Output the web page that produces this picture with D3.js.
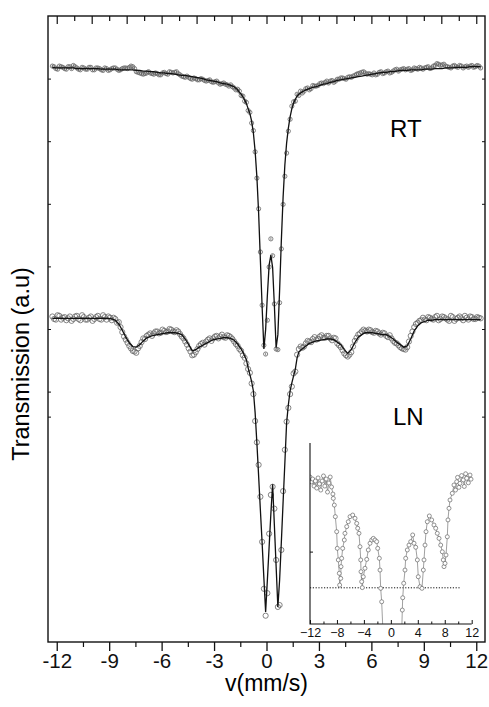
<!DOCTYPE html>
<html>
<head>
<meta charset="utf-8">
<script src="https://cdn.jsdelivr.net/npm/d3@7"></script>
<style>
  body { margin: 0; background: #fff; }
  svg { display: block; font-family: "Liberation Sans", Arial, sans-serif; }
  .axis path, .axis line { stroke: #111; }
  .axis text { fill: #111; }
</style>
</head>
<body>
<div id="chart"></div>
<script>
// velocity channels (mm/s), shared by both spectra
const vel = [
  -12.25,-12.05,-11.85,-11.65,-11.45,-11.25,-11.05,-10.85,-10.65,-10.45,
  -10.25,-10.05,-9.85,-9.65,-9.45,-9.25,-9.05,-8.85,-8.65,-8.45,
  -8.25,-8.05,-7.85,-7.65,-7.45,-7.25,-7.05,-6.85,-6.65,-6.45,
  -6.25,-6.05,-5.85,-5.65,-5.45,-5.25,-5.05,-4.85,-4.65,-4.45,
  -4.25,-4.05,-3.85,-3.65,-3.45,-3.25,-3.05,-2.85,-2.65,-2.45,
  -2.25,-2.05,-1.85,-1.65,
  -1.55,-1.45,-1.35,-1.25,-1.15,-1.05,-0.95,-0.85,-0.75,-0.65,
  -0.55,-0.45,-0.35,-0.25,-0.15,-0.05,0.05,0.15,0.25,0.35,
  0.45,0.55,0.65,0.75,0.85,0.95,1.05,1.15,1.25,1.35,
  1.45,1.55,1.65,1.75,1.85,1.95,2.05,
  2.25,2.45,2.65,2.85,3.05,3.25,3.45,3.65,3.85,4.05,
  4.25,4.45,4.65,4.85,5.05,5.25,5.45,5.65,5.85,6.05,
  6.25,6.45,6.65,6.85,7.05,7.25,7.45,7.65,7.85,8.05,
  8.25,8.45,8.65,8.85,9.05,9.25,9.45,9.65,9.85,10.05,
  10.25,10.45,10.65,10.85,11.05,11.25,11.45,11.65,11.85,12.05,
  12.25
];
// in-between channels of the wings (no fit drawn on these)
const velB = [
  -12.15,-11.95,-11.75,-11.55,-11.35,-11.15,-10.95,-10.75,-10.55,-10.35,
  -10.15,-9.95,-9.75,-9.55,-9.35,-9.15,-8.95,-8.75,-8.55,-8.35,
  -8.15,-7.95,-7.75,-7.55,-7.35,-7.15,-6.95,-6.75,-6.55,-6.35,
  -6.15,-5.95,-5.75,-5.55,-5.35,-5.15,-4.95,-4.75,-4.55,-4.35,
  -4.15,-3.95,-3.75,-3.55,-3.35,-3.15,-2.95,-2.75,-2.55,-2.35,
  -2.15,-1.95,-1.75,
  2.15,2.35,2.55,2.75,2.95,3.15,3.35,3.55,3.75,3.95,
  4.15,4.35,4.55,4.75,4.95,5.15,5.35,5.55,5.75,5.95,
  6.15,6.35,6.55,6.75,6.95,7.15,7.35,7.55,7.75,7.95,
  8.15,8.35,8.55,8.75,8.95,9.15,9.35,9.55,9.75,9.95,
  10.15,10.35,10.55,10.75,10.95,11.15,11.35,11.55,11.75,11.95,
  12.15
];

// room temperature spectrum (a.u.)
const rtObs = [
  92.0,91.6,92.0,91.8,91.5,91.9,92.1,91.7,91.4,91.7,
  91.5,91.8,91.4,91.7,91.4,91.7,91.3,91.6,91.7,91.3,
  91.6,91.7,91.8,91.9,91.1,90.9,90.7,90.9,90.9,90.7,
  90.8,90.6,91.0,90.7,91.0,91.0,90.8,90.4,90.2,90.2,
  89.9,90.0,89.8,89.9,89.6,89.8,89.4,89.6,89.1,89.3,
  89.0,89.0,88.5,88.3,
  88.0,87.3,87.2,86.4,86.2,84.9,84.6,82.9,81.7,78.3,
  74.1,69.2,62.3,53.8,47.4,46.0,51.4,59.9,64.4,61.7,
  54.0,46.8,46.7,54.2,62.8,69.9,74.4,78.1,81.6,83.5,
  85.6,86.3,86.4,87.5,87.3,88.0,87.7,
  88.4,88.2,88.9,88.8,89.2,89.2,89.6,89.6,89.4,89.9,
  90.1,90.0,90.2,90.2,90.5,90.8,91.0,90.9,90.8,90.6,
  90.6,91.0,90.8,91.1,90.9,91.2,91.5,91.4,91.6,91.5,
  91.3,91.7,91.5,91.7,91.7,91.9,91.7,92.1,92.3,92.2,
  92.0,91.8,92.0,91.9,92.1,91.7,92.0,92.0,91.8,92.1,
  91.7
];
const rtObsB = [
  91.9,91.5,91.9,91.6,91.9,91.6,91.9,91.5,91.8,91.5,
  91.8,91.4,91.7,91.6,91.3,91.6,91.4,91.7,91.5,91.4,
  91.7,91.6,92.0,91.6,91.0,90.8,90.8,91.1,90.8,90.9,
  90.6,90.9,90.8,91.1,90.9,91.1,90.6,90.3,90.4,90.0,
  90.1,89.8,90.0,89.7,89.7,89.5,89.5,89.3,89.2,89.1,
  88.8,88.7,88.2,
  88.0,88.5,88.4,88.8,88.9,89.3,89.4,89.3,89.7,89.6,
  89.9,90.1,89.9,90.3,90.4,90.7,90.9,91.1,90.7,90.7,
  90.9,90.7,91.1,90.9,91.2,91.0,91.4,91.2,91.5,91.4,
  91.6,91.4,91.6,91.8,91.5,91.8,91.6,92.0,92.4,92.1,
  92.3,91.9,91.7,92.1,91.8,92.0,91.9,91.8,92.1,91.9,
  92.0
];
const rtFit = [
  91.8,91.7,91.7,91.7,91.7,91.7,91.7,91.6,91.6,91.6,
  91.6,91.6,91.6,91.6,91.5,91.5,91.5,91.5,91.5,91.4,
  91.4,91.4,91.4,91.4,91.3,91.3,91.2,91.2,91.1,91.1,
  91.0,90.9,90.9,90.8,90.8,90.7,90.6,90.5,90.5,90.4,
  90.3,90.2,90.1,90.0,89.8,89.7,89.6,89.5,89.3,89.2,
  89.1,88.9,88.7,88.2,
  87.8,87.5,87.1,86.6,86.0,85.2,84.4,83.2,81.3,78.4,
  74.3,68.5,61.0,53.5,46.8,49.9,55.4,60.2,61.8,59.8,
  53.8,47.0,49.1,56.2,64.2,71.1,76.2,79.7,82.1,83.9,
  85.2,86.1,86.7,87.2,87.5,87.7,87.9,
  88.2,88.4,88.6,88.7,88.9,89.1,89.2,89.4,89.5,89.7,
  89.8,89.9,90.0,90.1,90.2,90.3,90.4,90.5,90.6,90.7,
  90.8,90.9,91.0,91.0,91.1,91.1,91.2,91.3,91.3,91.3,
  91.4,91.4,91.4,91.4,91.5,91.5,91.5,91.6,91.6,91.6,
  91.7,91.7,91.7,91.8,91.8,91.8,91.8,91.9,91.9,91.9,
  91.9
];

// liquid nitrogen spectrum (a.u.)
const lnObs = [
  52.0,51.5,52.1,51.8,51.4,52.0,51.6,52.1,51.4,51.9,
  51.5,52.0,51.6,52.1,51.5,51.9,52.0,51.4,51.6,51.1,
  49.5,48.3,47.3,46.5,46.2,47.3,48.5,48.9,49.3,49.3,
  49.6,49.4,49.7,49.6,49.9,49.5,49.6,48.8,48.0,46.9,
  45.8,46.3,47.3,47.8,48.0,48.5,48.5,48.9,48.8,48.7,
  49.0,48.7,48.0,47.3,
  46.8,46.5,45.8,45.4,44.5,43.6,43.0,41.3,39.6,35.3,
  31.9,28.3,23.2,16.0,8.5,4.2,7.8,17.3,23.5,24.8,
  21.3,13.1,5.6,5.9,14.7,24.1,30.7,35.2,37.4,39.6,
  40.8,42.9,43.2,45.9,46.8,47.2,47.0,
  47.7,48.0,48.4,48.3,48.8,48.6,48.9,48.5,48.6,47.7,
  47.1,46.1,45.6,46.3,48.1,49.1,49.6,49.7,49.9,49.5,
  49.7,49.3,49.4,48.9,49.0,48.1,47.7,47.1,46.8,47.1,
  48.9,50.3,51.0,51.4,51.5,51.9,51.6,51.9,51.4,52.0,
  51.7,51.3,51.9,51.6,52.0,51.4,51.8,52.0,51.6,51.9,
  51.7
];
const lnObsB = [
  51.6,52.2,51.5,51.9,51.7,51.3,52.0,51.6,52.2,51.5,
  51.8,51.3,51.9,51.6,52.2,51.5,51.8,51.8,51.0,50.3,
  48.8,47.8,46.9,46.4,46.9,47.9,48.4,49.1,48.9,49.6,
  49.3,49.9,49.5,50.0,49.6,49.8,49.2,48.5,47.5,46.4,
  45.9,46.8,47.6,47.5,48.3,48.1,48.8,48.5,49.1,48.6,
  48.9,48.4,47.6,
  47.2,48.1,47.9,48.7,48.4,49.0,48.6,48.9,48.2,48.5,
  47.4,46.6,45.8,45.9,47.2,48.6,49.3,49.9,49.6,49.8,
  49.4,49.6,49.1,49.3,48.7,48.5,47.8,47.4,46.9,46.7,
  48.0,49.6,50.8,51.3,51.8,51.4,51.8,51.5,52.1,51.6,
  51.9,51.5,52.1,51.3,51.8,51.7,52.1,51.5,51.9,51.6,
  51.8
];
const lnFit = [
  51.7,51.7,51.7,51.7,51.7,51.7,51.7,51.7,51.7,51.7,
  51.7,51.7,51.7,51.7,51.7,51.7,51.7,51.6,51.4,50.8,
  49.8,48.7,47.8,47.2,47.1,47.5,48.1,48.6,48.8,49.0,
  49.1,49.2,49.3,49.4,49.4,49.4,49.3,49.1,48.4,47.5,
  46.5,46.7,47.1,47.4,47.7,48.0,48.3,48.4,48.5,48.6,
  48.6,48.5,48.2,47.6,
  47.2,46.8,46.3,45.7,45.1,43.8,42.7,41.6,40.1,36.6,
  31.8,26.5,21.1,15.8,10.2,4.8,9.9,15.2,20.5,25.2,
  18.7,12.1,5.6,9.9,16.0,22.4,28.6,35.0,37.9,40.1,
  41.4,42.5,43.6,45.4,46.3,46.6,46.8,
  47.3,47.7,47.9,48.1,48.2,48.3,48.4,48.4,48.3,47.9,
  47.5,46.7,46.1,46.7,47.8,48.7,49.1,49.4,49.4,49.4,
  49.3,49.2,49.1,49.1,48.8,48.4,47.9,47.5,47.1,47.3,
  48.4,49.7,50.5,51.0,51.2,51.4,51.4,51.5,51.5,51.5,
  51.5,51.5,51.5,51.5,51.5,51.5,51.5,51.5,51.5,51.5,
  51.5
];

// inset: magnified LN spectrum
const insetVel = [
  -12.0,-11.8,-11.6,-11.4,-11.2,-11.0,-10.8,-10.6,-10.4,-10.2,
  -10.0,-9.8,-9.6,-9.4,-9.2,-9.0,-8.8,-8.6,
  -8.54,-8.39,-8.24,-8.04,-7.95,-7.80,-7.65,-7.60,-7.44,-7.40,
  -7.30,-7.15,-6.91,-6.81,-6.55,-6.32,-6.06,-5.66,-5.32,-5.07,
  -4.92,-4.73,-4.58,-4.47,-4.43,-4.33,-4.24,-4.09,-3.84,-3.58,
  -3.35,-3.09,-2.84,-2.60,-2.35,-2.10,-1.95,-1.71,-1.61,-1.51,
  -1.36,-1.12,
  1.58,1.70,1.76,1.91,2.10,2.20,2.44,2.69,2.95,3.24,
  3.44,3.69,3.93,4.07,4.33,4.62,4.82,4.92,5.07,5.22,
  5.41,5.71,6.06,6.40,6.66,6.89,7.15,7.40,7.64,7.78,
  7.89,8.04,8.19,8.38,8.48,8.63,8.78,9.12,9.37,9.6,
  9.77,9.9,10.1,10.26,10.5,10.75,10.9,11.1,11.26,11.5,
  11.75,11.9
];
const insetObs = [
  81.2,78.5,80.1,76.2,79.0,75.1,80.7,77.4,74.0,79.0,
  81.8,76.2,80.1,72.9,77.9,81.2,75.7,71.8,
  69.4,65.7,59.3,51.0,41.8,35.4,28.0,21.5,25.2,31.7,
  36.3,41.8,46.4,50.1,53.8,56.5,59.3,60.2,58.4,55.6,
  52.9,50.1,42.7,35.4,28.9,23.4,20.1,26.1,30.8,35.7,
  40.9,44.6,46.4,47.3,46.4,45.5,41.8,36.3,29.8,19.7,
  12.3,-8.8,
  -8.8,7.7,14.5,22.5,29.8,36.3,40.9,43.6,45.5,49.2,
  44.6,42.4,35.4,26.1,20.6,19.7,29.8,35.4,43.6,51.0,
  56.5,59.7,57.5,54.7,52.9,50.1,47.3,43.6,39.9,35.4,
  31.7,33.5,38.1,48.2,57.5,63.9,68.5,72.2,76.8,74.0,
  78.6,81.0,75.5,77.7,82.0,79.6,76.0,83.0,80.5,78.0,
  82.3,80.0
];
const insetBase = 20;

// tick values
const xMajor = [-12, -9, -6, -3, 0, 3, 6, 9, 12];
const xMinor = [-10.5, -7.5, -4.5, -1.5, 1.5, 4.5, 7.5, 10.5];
const topLong = [-12, -10, -8, -6, -4, -2, 0, 2, 4, 6, 8, 10, 12];
const topShort = [-11, -9, -7, -5, -3, -1, 1, 3, 5, 7, 9, 11];
const yTicks = [90, 80, 70, 60, 50, 40, 36];
const insetXMajor = [-12, -8, -4, 0, 4, 8, 12];
const insetXMinor = [-10, -6, -2, 2, 6, 10];
const insetYTicks = [40];

const W = 489, H = 707;
const frame = { left: 48, right: 485, top: 16, bottom: 642 };

const svg = d3.select('#chart').append('svg')
  .attr('width', W).attr('height', H);

const x = d3.scaleLinear().domain([-12.5, 12.5]).range([frame.left, frame.right]);
const y = d3.scaleLinear().domain([0, 100]).range([frame.bottom, frame.top]);

// axes on all four sides
svg.append('g').attr('class', 'axis')
  .attr('transform', 'translate(0,' + frame.bottom + ')')
  .call(d3.axisBottom(x).tickValues(xMajor).tickSize(9).tickPadding(2)
    .tickFormat(d => String(d)))
  .call(g => g.select('.domain').remove())
  .call(g => g.selectAll('line').attr('stroke-width', 1.3))
  .call(g => g.selectAll('text').attr('font-size', 20.5));
svg.append('g').attr('class', 'axis')
  .attr('transform', 'translate(0,' + frame.bottom + ')')
  .call(d3.axisBottom(x).tickValues(xMinor).tickSize(5).tickFormat(''))
  .call(g => g.select('.domain').remove())
  .call(g => g.selectAll('line').attr('stroke-width', 1.2));
svg.append('g').attr('class', 'axis')
  .attr('transform', 'translate(0,' + frame.top + ')')
  .call(d3.axisBottom(x).tickValues(topLong).tickSize(8).tickFormat(''))
  .call(g => g.select('.domain').remove())
  .call(g => g.selectAll('line').attr('stroke-width', 1.2));
svg.append('g').attr('class', 'axis')
  .attr('transform', 'translate(0,' + frame.top + ')')
  .call(d3.axisBottom(x).tickValues(topShort).tickSize(5).tickFormat(''))
  .call(g => g.select('.domain').remove())
  .call(g => g.selectAll('line').attr('stroke-width', 1.2));
svg.append('g').attr('class', 'axis')
  .attr('transform', 'translate(' + frame.left + ',0)')
  .call(d3.axisRight(y).tickValues(yTicks).tickSize(3).tickFormat(''))
  .call(g => g.select('.domain').remove());
svg.append('g').attr('class', 'axis')
  .attr('transform', 'translate(' + frame.right + ',0)')
  .call(d3.axisLeft(y).tickValues(yTicks).tickSize(3).tickFormat(''))
  .call(g => g.select('.domain').remove());

svg.append('rect')
  .attr('x', frame.left).attr('y', frame.top)
  .attr('width', frame.right - frame.left).attr('height', frame.bottom - frame.top)
  .attr('fill', 'none').attr('stroke', '#111').attr('stroke-width', 1.4);

// spectra: circles for the counts, black line for the fit
const line = d3.line().x(d => x(d[0])).y(d => y(d[1]));
function drawSpectrum(obs, obsB, fit, r, bars) {
  const pts = vel.map((v, i) => [v, obs[i]])
    .concat(velB.map((v, i) => [v, obsB[i]]));
  const g = svg.append('g');
  if (bars) {
    g.selectAll('line.err').data(pts).enter().append('line')
      .attr('x1', d => x(d[0])).attr('x2', d => x(d[0]))
      .attr('y1', d => y(d[1]) - 1.5).attr('y2', d => y(d[1]) + 1.5)
      .attr('stroke', '#444').attr('stroke-width', 0.6);
  }
  g.selectAll('circle').data(pts).enter().append('circle')
    .attr('cx', d => x(d[0])).attr('cy', d => y(d[1])).attr('r', r)
    .attr('fill', 'none').attr('stroke', '#666').attr('stroke-width', 0.8);
  g.append('path').datum(vel.map((v, i) => [v, fit[i]]))
    .attr('d', line).attr('fill', 'none')
    .attr('stroke', '#111').attr('stroke-width', 1.3);
}
drawSpectrum(rtObs, rtObsB, rtFit, 2.1, true);
drawSpectrum(lnObs, lnObsB, lnFit, 2.6, false);

svg.append('text').attr('x', 390).attr('y', 137).attr('font-size', 24).text('RT');
svg.append('text').attr('x', 393).attr('y', 425).attr('font-size', 24).text('LN');

// axis titles
svg.append('text')
  .attr('x', (frame.left + frame.right) / 2).attr('y', 691)
  .attr('text-anchor', 'middle').attr('font-size', 23).text('v(mm/s)');
svg.append('text')
  .attr('transform', 'translate(29,' + 364 + ') rotate(-90)')
  .attr('text-anchor', 'middle').attr('font-size', 23.5).text('Transmission (a.u)');

// inset
const ib = { left: 310, right: 471.7, top: 443, bottom: 624 };
const ix = d3.scaleLinear().domain([-12, 12]).range([ib.left, ib.right]);
const iy = d3.scaleLinear().domain([0, 100]).range([ib.bottom, ib.top]);
const inset = svg.append('g');
inset.append('clipPath').attr('id', 'inclip').append('rect')
  .attr('x', ib.left).attr('y', ib.top - 5)
  .attr('width', ib.right - ib.left + 5).attr('height', ib.bottom - ib.top + 5);

inset.append('line')
  .attr('x1', ix(-12)).attr('x2', ix(10.3))
  .attr('y1', iy(insetBase)).attr('y2', iy(insetBase))
  .attr('stroke', '#111').attr('stroke-width', 1).attr('stroke-dasharray', '1.2,1.6');

const ipts = insetVel.map((v, i) => [v, insetObs[i]]);
const ig = inset.append('g').attr('clip-path', 'url(#inclip)');
ig.append('path').datum(ipts)
  .attr('d', d3.line().x(d => ix(d[0])).y(d => iy(d[1])))
  .attr('fill', 'none').attr('stroke', '#777').attr('stroke-width', 0.7);
ig.selectAll('circle').data(ipts.filter(d => d[1] > 0)).enter().append('circle')
  .attr('cx', d => ix(d[0])).attr('cy', d => iy(d[1])).attr('r', 2)
  .attr('fill', '#fff').attr('stroke', '#666').attr('stroke-width', 0.7);

inset.append('g').attr('class', 'axis')
  .attr('transform', 'translate(0,' + ib.bottom + ')')
  .call(d3.axisTop(ix).tickValues(insetXMajor).tickSize(4).tickFormat(''))
  .call(g => g.select('.domain').remove());
inset.append('g').attr('class', 'axis')
  .attr('transform', 'translate(0,' + ib.bottom + ')')
  .call(d3.axisTop(ix).tickValues(insetXMinor).tickSize(2.5).tickFormat(''))
  .call(g => g.select('.domain').remove());
inset.append('g').attr('class', 'axis')
  .attr('transform', 'translate(0,' + ib.bottom + ')')
  .call(d3.axisBottom(ix).tickValues(insetXMajor).tickSize(0).tickPadding(4))
  .call(g => g.select('.domain').remove())
  .call(g => g.selectAll('text').attr('font-size', 12.5));
inset.append('g').attr('class', 'axis')
  .attr('transform', 'translate(' + ib.left + ',0)')
  .call(d3.axisRight(iy).tickValues(insetYTicks).tickSize(3).tickFormat(''))
  .call(g => g.select('.domain').remove());
inset.append('path')
  .attr('d', 'M' + ib.left + ',' + ib.top + 'V' + ib.bottom + 'H' + ib.right)
  .attr('fill', 'none').attr('stroke', '#111').attr('stroke-width', 1.1);
</script>
</body>
</html>
